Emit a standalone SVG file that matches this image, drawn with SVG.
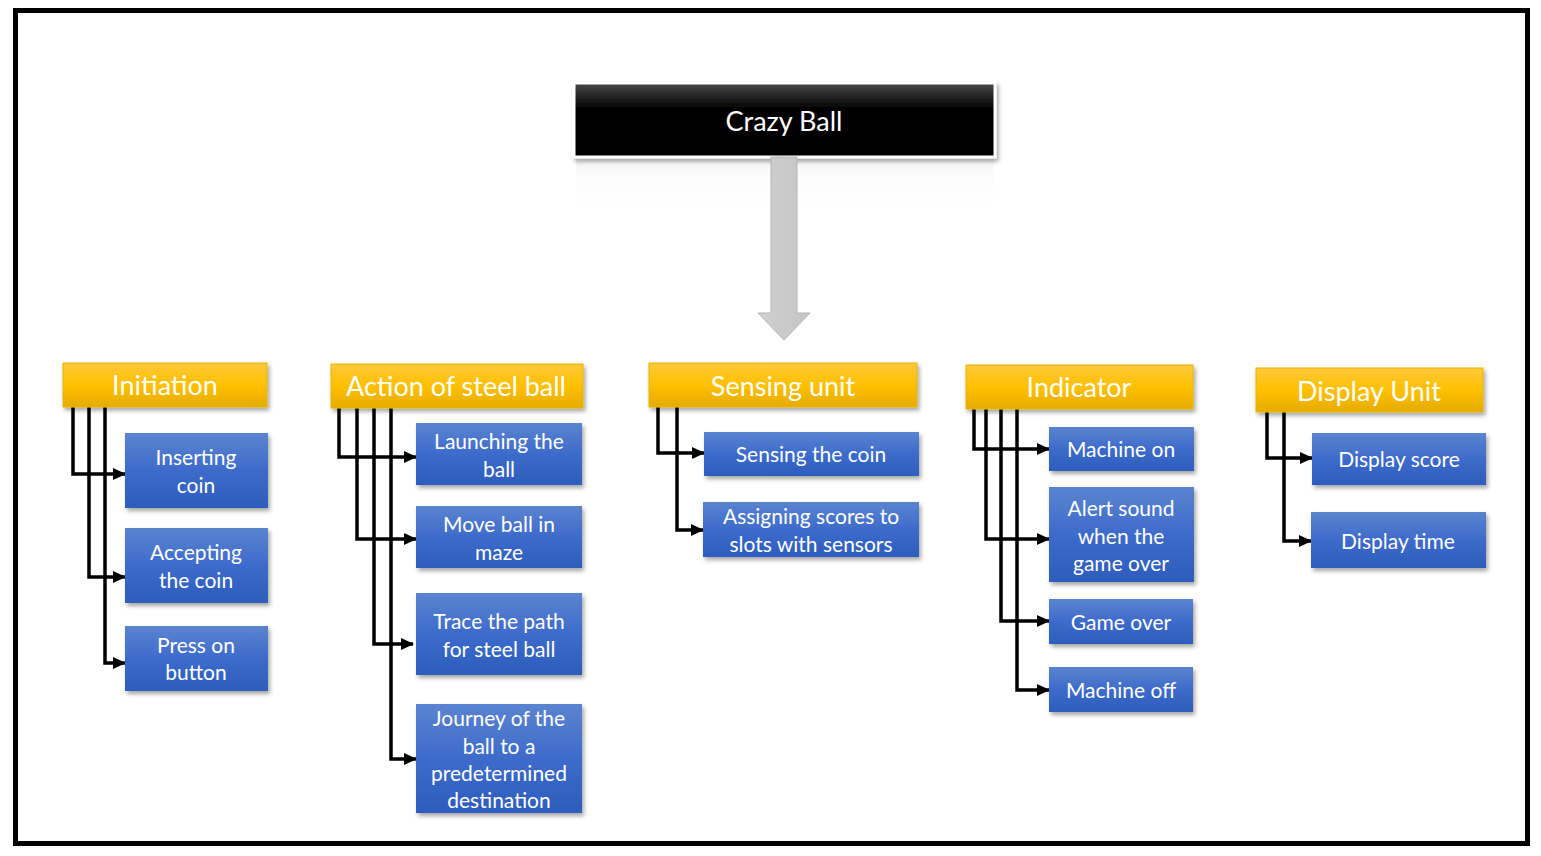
<svg xmlns="http://www.w3.org/2000/svg" width="1541" height="856" viewBox="0 0 1541 856">
<defs>
<linearGradient id="gBlack" x1="0" y1="0" x2="0" y2="1"><stop offset="0" stop-color="#4a4a4a"/><stop offset="0.35" stop-color="#000"/><stop offset="1" stop-color="#000"/></linearGradient>
<linearGradient id="gYel" x1="0" y1="0" x2="0" y2="1"><stop offset="0" stop-color="#FFC93C"/><stop offset="0.5" stop-color="#FFC000"/><stop offset="1" stop-color="#E5AC00"/></linearGradient>
<linearGradient id="gBlue" x1="0" y1="0" x2="0" y2="1"><stop offset="0" stop-color="#5B84CF"/><stop offset="0.5" stop-color="#3D6BCB"/><stop offset="1" stop-color="#2D5DBD"/></linearGradient>
<linearGradient id="gGray" x1="0" y1="0" x2="1" y2="0"><stop offset="0" stop-color="#D0D0D0"/><stop offset="1" stop-color="#C4C4C4"/></linearGradient>
<linearGradient id="gRefl" x1="0" y1="0" x2="0" y2="1"><stop offset="0" stop-color="#e6e6e6" stop-opacity="0.5"/><stop offset="0.3" stop-color="#f6f6f6" stop-opacity="0.4"/><stop offset="1" stop-color="#fff" stop-opacity="0"/></linearGradient>
<filter id="sh" x="-10%" y="-10%" width="130%" height="140%"><feDropShadow dx="2" dy="3" stdDeviation="2" flood-color="#000" flood-opacity="0.35"/></filter>
<marker id="ah" markerUnits="userSpaceOnUse" markerWidth="13" markerHeight="12" refX="12" refY="6" orient="auto"><path d="M0,0 L13,6 L0,12 z" fill="#000"/></marker>
<style>
.hd{fill:url(#gYel);stroke:#E8B400;stroke-width:1;filter:url(#sh)}
.ch{fill:url(#gBlue);filter:url(#sh)}
.ht{font-family:Lato,"Open Sans",sans-serif;font-size:27px;fill:#fff;text-anchor:middle;dominant-baseline:central}
.ct{font-family:Lato,"Open Sans",sans-serif;font-size:21px;fill:#fff;text-anchor:middle;dominant-baseline:central}
.cn{fill:none;stroke:#000;stroke-width:3.5;marker-end:url(#ah)}
</style>
</defs>
<rect x="0" y="0" width="1541" height="856" fill="#fff"/>
<rect x="15.5" y="10.5" width="1512" height="833" fill="none" stroke="#000" stroke-width="5"/>

<g id="root">
<rect x="576" y="157" width="418" height="60" fill="url(#gRefl)"/>
<rect x="574" y="83" width="421" height="74" fill="url(#gBlack)" stroke="#fff" stroke-width="3" filter="url(#sh)"/>
<text class="ht" x="784" y="120">Crazy Ball</text>
</g>
<g id="bigarrow">
<path d="M771,157 L797,157 L797,313 L810,313 L784,340 L758,313 L771,313 Z" fill="url(#gGray)" stroke="#B5B5B5" stroke-width="1"/>
</g>

<g id="connectors">
<path class="cn" d="M73,407 V474 H125"/>
<path class="cn" d="M89,407 V577 H125"/>
<path class="cn" d="M105,407 V663 H125"/>
<path class="cn" d="M339,408 V457 H416"/>
<path class="cn" d="M357,408 V539 H416"/>
<path class="cn" d="M374,408 V644 H413"/>
<path class="cn" d="M391,408 V759 H416"/>
<path class="cn" d="M658,407 V453 H704"/>
<path class="cn" d="M677,407 V530 H703"/>
<path class="cn" d="M974,409 V449 H1049"/>
<path class="cn" d="M986,409 V539 H1049"/>
<path class="cn" d="M1001,409 V621 H1049"/>
<path class="cn" d="M1017,409 V690 H1049"/>
<path class="cn" d="M1267,412 V458 H1312"/>
<path class="cn" d="M1284,412 V541 H1311"/>
</g>

<g id="initiation"><rect class="hd" x="63" y="363" width="204" height="44"/><text class="ht" x="165" y="384">Initiation</text></g>
<g id="inserting"><rect class="ch" x="125" y="433" width="143" height="75"/><text class="ct" x="196" y="456">Inserting</text><text class="ct" x="196" y="484">coin</text></g>
<g id="accepting"><rect class="ch" x="125" y="528" width="143" height="75"/><text class="ct" x="196" y="551">Accepting</text><text class="ct" x="196" y="579">the coin</text></g>
<g id="press"><rect class="ch" x="125" y="626" width="143" height="65"/><text class="ct" x="196" y="644">Press on</text><text class="ct" x="196" y="671">button</text></g>

<g id="action"><rect class="hd" x="331" y="364" width="252" height="44"/><text class="ht" x="456" y="385">Action of steel ball</text></g>
<g id="launching"><rect class="ch" x="416" y="423" width="166" height="62"/><text class="ct" x="499" y="440">Launching the</text><text class="ct" x="499" y="468">ball</text></g>
<g id="move"><rect class="ch" x="416" y="506" width="166" height="62"/><text class="ct" x="499" y="523">Move ball in</text><text class="ct" x="499" y="551">maze</text></g>
<g id="trace"><rect class="ch" x="416" y="593" width="166" height="82"/><text class="ct" x="499" y="620">Trace the path</text><text class="ct" x="499" y="648">for steel ball</text></g>
<g id="journey"><rect class="ch" x="416" y="704" width="166" height="109"/><text class="ct" x="499" y="717">Journey of the</text><text class="ct" x="499" y="745">ball to a</text><text class="ct" x="499" y="772">predetermined</text><text class="ct" x="499" y="799">destination</text></g>

<g id="sensing"><rect class="hd" x="649" y="363" width="268" height="44"/><text class="ht" x="783" y="385">Sensing unit</text></g>
<g id="sensecoin"><rect class="ch" x="704" y="432" width="215" height="44"/><text class="ct" x="811" y="453">Sensing the coin</text></g>
<g id="assigning"><rect class="ch" x="703" y="502" width="216" height="55"/><text class="ct" x="811" y="515">Assigning scores to</text><text class="ct" x="811" y="543">slots with sensors</text></g>

<g id="indicator"><rect class="hd" x="966" y="365" width="227" height="44"/><text class="ht" x="1079" y="386">Indicator</text></g>
<g id="machineon"><rect class="ch" x="1049" y="427" width="145" height="44"/><text class="ct" x="1121" y="448">Machine on</text></g>
<g id="alert"><rect class="ch" x="1049" y="487" width="145" height="95"/><text class="ct" x="1121" y="507">Alert sound</text><text class="ct" x="1121" y="535">when the</text><text class="ct" x="1121" y="562">game over</text></g>
<g id="gameover"><rect class="ch" x="1049" y="599" width="144" height="45"/><text class="ct" x="1121" y="621">Game over</text></g>
<g id="machineoff"><rect class="ch" x="1049" y="667" width="144" height="45"/><text class="ct" x="1121" y="689">Machine off</text></g>

<g id="display"><rect class="hd" x="1256" y="368" width="227" height="44"/><text class="ht" x="1369" y="390">Display Unit</text></g>
<g id="dscore"><rect class="ch" x="1312" y="433" width="174" height="52"/><text class="ct" x="1399" y="458">Display score</text></g>
<g id="dtime"><rect class="ch" x="1311" y="512" width="175" height="56"/><text class="ct" x="1398" y="540">Display time</text></g>
</svg>
